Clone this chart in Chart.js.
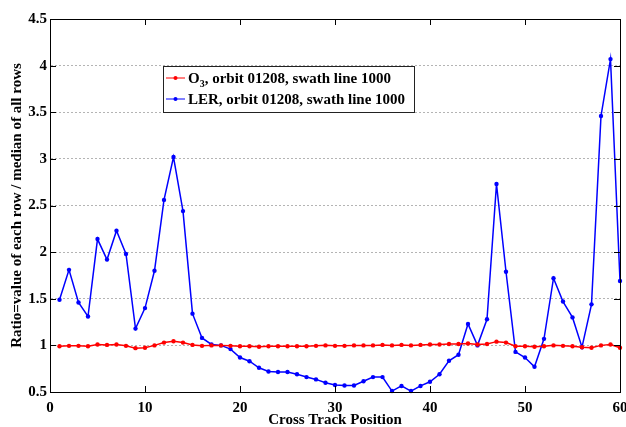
<!DOCTYPE html>
<html>
<head>
<meta charset="utf-8">
<script src="https://cdn.jsdelivr.net/npm/chart.js@4.4.0/dist/chart.umd.min.js"></script>
<style>
  html, body { margin: 0; padding: 0; background: #fff; }
  #wrap { width: 626px; height: 427px; }
</style>
</head>
<body>
<div id="wrap"><canvas id="ratioChart" width="626" height="427"></canvas></div>
<script>
// cross track positions (1..60)
const positions = [1, 2, 3, 4, 5, 6, 7, 8, 9, 10, 11, 12, 13, 14, 15, 16, 17, 18, 19, 20,
    21, 22, 23, 24, 25, 26, 27, 28, 29, 30, 31, 32, 33, 34, 35, 36, 37, 38, 39, 40,
    41, 42, 43, 44, 45, 46, 47, 48, 49, 50, 51, 52, 53, 54, 55, 56, 57, 58, 59, 60];

const ozoneRatio = [0.99, 0.995, 0.995, 0.99, 1.01, 1.005, 1.01, 0.995, 0.97, 0.975,
    1.0, 1.03, 1.045, 1.03, 1.005, 0.995, 1.0, 1.0, 0.995, 0.99,
    0.99, 0.985, 0.99, 0.99, 0.99, 0.99, 0.99, 0.995, 1.0, 0.995,
    0.995, 1.0, 1.0, 1.0, 1.005, 1.0, 1.005, 1.0, 1.005, 1.01,
    1.01, 1.015, 1.015, 1.02, 1.01, 1.015, 1.04, 1.03, 0.99, 0.99,
    0.985, 0.99, 1.0, 0.995, 0.99, 0.98, 0.975, 1.0, 1.01, 0.975];

const lerRatio = [1.49, 1.81, 1.46, 1.31, 2.14, 1.92, 2.23, 1.98, 1.18, 1.40,
    1.80, 2.56, 3.02, 2.44, 1.34, 1.08, 1.01, 1.0, 0.96, 0.87,
    0.83, 0.76, 0.72, 0.715, 0.715, 0.69, 0.66, 0.635, 0.60, 0.575,
    0.57, 0.57, 0.615, 0.66, 0.66, 0.51, 0.565, 0.51, 0.565, 0.61,
    0.69, 0.835, 0.90, 1.23, 1.0, 1.28, 2.73, 1.79, 0.93, 0.87,
    0.77, 1.07, 1.72, 1.47, 1.30, 0.98, 1.44, 3.46, 4.07, 1.69];

const xTicks = [0, 10, 20, 30, 40, 50, 60];
const yTicks = [0.5, 1, 1.5, 2, 2.5, 3, 3.5, 4, 4.5];

// legend text: [main, subscript, rest]
const legendParts = [
    ['O', '3', ', orbit 01208, swath line 1000'],
    ['LER', '', ', orbit 01208, swath line 1000']
];

const serif = "'Liberation Serif', 'Times New Roman', serif";

function toPoints(values) {
    return positions.map((p, i) => ({ x: p, y: values[i] }));
}

// box, inner ticks and the boxed legend
const framePlugin = {
    id: 'frame',
    afterDraw(chart) {
        const ctx = chart.ctx;
        const a = chart.chartArea;
        const xs = chart.scales.x, ys = chart.scales.y;
        ctx.save();
        ctx.strokeStyle = '#000';
        ctx.lineWidth = 1;
        ctx.strokeRect(Math.round(a.left) + 0.5, Math.round(a.top) + 0.5,
            Math.round(a.right - a.left), Math.round(a.bottom - a.top));
        const len = 6;
        ctx.beginPath();
        xTicks.forEach(v => {
            const px = Math.round(xs.getPixelForValue(v)) + 0.5;
            ctx.moveTo(px, a.bottom); ctx.lineTo(px, a.bottom - len);
            ctx.moveTo(px, a.top); ctx.lineTo(px, a.top + len);
        });
        yTicks.forEach(v => {
            const py = Math.round(ys.getPixelForValue(v)) + 0.5;
            ctx.moveTo(a.left, py); ctx.lineTo(a.left + len, py);
            ctx.moveTo(a.right, py); ctx.lineTo(a.right - len, py);
        });
        ctx.stroke();

        // legend
        const bx = 163, by = 66, bw = 251, bh = 46;
        ctx.fillStyle = '#fff';
        ctx.fillRect(bx, by, bw, bh);
        ctx.strokeStyle = '#222';
        ctx.strokeRect(bx + 0.5, by + 0.5, bw, bh);
        chart.data.datasets.forEach((ds, i) => {
            const cy = by + 12 + i * 21;
            ctx.strokeStyle = ds.borderColor;
            ctx.lineWidth = 1;
            ctx.beginPath();
            ctx.moveTo(bx + 3, cy); ctx.lineTo(bx + 22, cy);
            ctx.stroke();
            ctx.fillStyle = ds.borderColor;
            ctx.beginPath();
            ctx.arc(bx + 12.5, cy, 2, 0, Math.PI * 2);
            ctx.fill();

            const parts = legendParts[i];
            ctx.fillStyle = '#000';
            ctx.textBaseline = 'middle';
            ctx.font = 'bold 15px ' + serif;
            let tx = bx + 25;
            ctx.fillText(parts[0], tx, cy + 1);
            tx += ctx.measureText(parts[0]).width;
            if (parts[1]) {
                ctx.font = 'bold 10px ' + serif;
                ctx.fillText(parts[1], tx, cy + 6);
                tx += ctx.measureText(parts[1]).width;
                ctx.font = 'bold 15px ' + serif;
            }
            ctx.fillText(parts[2], tx, cy + 1);
        });
        ctx.restore();
    }
};

new Chart(document.getElementById('ratioChart').getContext('2d'), {
    type: 'line',
    data: {
        datasets: [
            {
                label: 'O3, orbit 01208, swath line 1000',
                data: toPoints(ozoneRatio),
                borderColor: '#ff0000',
                backgroundColor: '#ff0000',
                borderWidth: 1.5,
                pointRadius: 2.2,
                pointBorderWidth: 0,
                tension: 0,
                clip: false
            },
            {
                label: 'LER, orbit 01208, swath line 1000',
                data: toPoints(lerRatio),
                borderColor: '#0000ff',
                backgroundColor: '#0000ff',
                borderWidth: 1.5,
                pointRadius: 2.2,
                pointBorderWidth: 0,
                tension: 0,
                clip: false
            }
        ]
    },
    options: {
        responsive: false,
        animation: false,
        layout: { padding: { left: 0, right: 6, top: 19, bottom: 0 } },
        plugins: {
            legend: { display: false },
            tooltip: { enabled: false }
        },
        scales: {
            x: {
                type: 'linear',
                min: 0,
                max: 60,
                afterBuildTicks(scale) { scale.ticks = xTicks.map(v => ({ value: v })); },
                afterFit(scale) { scale.height = 35; scale.paddingLeft = 0; scale.paddingRight = 0; },
                grid: { display: false, drawTicks: false },
                border: { display: true, color: '#000' },
                ticks: {
                    color: '#000',
                    padding: 7,
                    maxRotation: 0,
                    font: { family: serif, size: 15, weight: 'bold' }
                },
                title: {
                    display: true,
                    text: 'Cross Track Position',
                    color: '#000',
                    padding: { top: 0, bottom: -2 },
                    font: { family: serif, size: 15, weight: 'bold' }
                }
            },
            y: {
                min: 0.5,
                max: 4.5,
                afterBuildTicks(scale) { scale.ticks = yTicks.map(v => ({ value: v })); },
                afterFit(scale) { scale.width = 50; scale.paddingTop = 0; scale.paddingBottom = 0; },
                grid: {
                    drawTicks: false,
                    color: (c) => (c.tick && (c.tick.value === 0.5 || c.tick.value === 4.5)) ? 'rgba(0,0,0,0)' : '#b4b4b4',
                    lineWidth: 1
                },
                border: { display: true, color: '#000', dash: [2, 2] },
                ticks: {
                    color: '#000',
                    padding: 3,
                    font: { family: serif, size: 15, weight: 'bold' },
                    callback: (v) => String(v)
                },
                title: {
                    display: true,
                    text: 'Ratio=value of each row / median of all rows',
                    color: '#000',
                    padding: { top: 8, bottom: 0 },
                    font: { family: serif, size: 15, weight: 'bold' }
                }
            }
        }
    },
    plugins: [framePlugin]
});
</script>
</body>
</html>
